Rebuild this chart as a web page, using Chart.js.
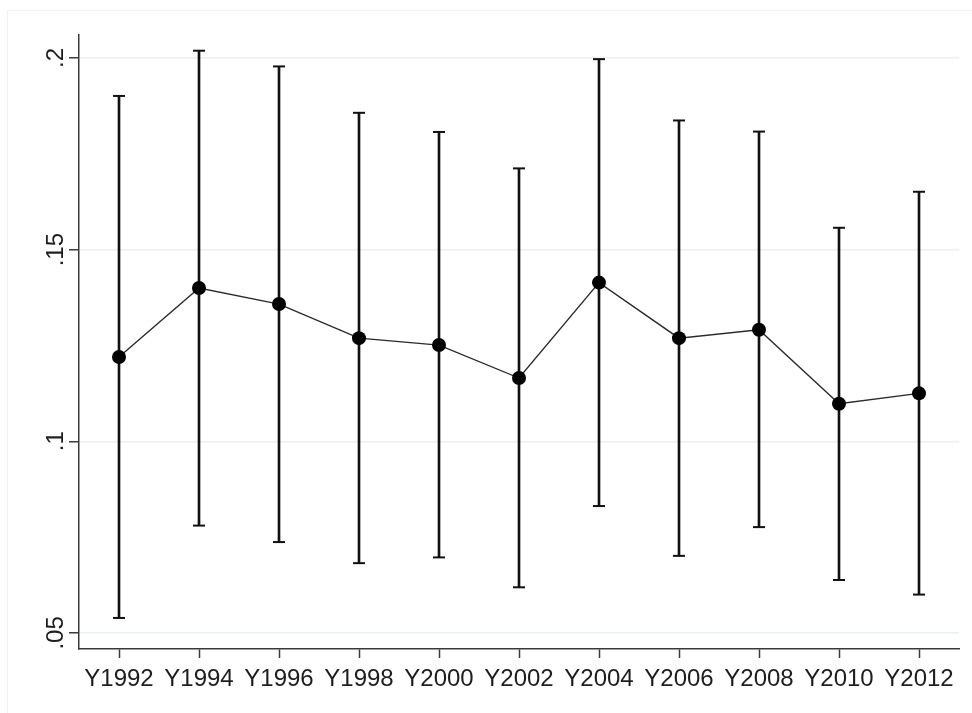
<!DOCTYPE html>
<html>
<head>
<meta charset="utf-8">
<script src="https://cdn.jsdelivr.net/npm/chart.js@4/dist/chart.umd.min.js"></script>
<style>
  body { margin: 0; background: #fff; }
  #wrap { position: relative; width: 972px; height: 713px; }
  #frame {
    position: absolute; left: 7px; top: 10px; right: 0; bottom: 0;
    border-top: 1px solid #f1f3f3; border-left: 1px solid #f1f3f3;
  }
  canvas { position: absolute; left: 0; top: 0; }
</style>
</head>
<body>
<div id="wrap">
  <div id="frame"></div>
  <canvas id="ciChart" width="972" height="713"></canvas>
</div>
<script>
const years = ['Y1992', 'Y1994', 'Y1996', 'Y1998', 'Y2000', 'Y2002',
  'Y2004', 'Y2006', 'Y2008', 'Y2010', 'Y2012'];
const means = [0.122, 0.140, 0.1358, 0.1269, 0.1251, 0.1165,
  0.1414, 0.1269, 0.1291, 0.1098, 0.1125];
const lower = [0.0539, 0.0780, 0.0737, 0.0682, 0.0697, 0.0619,
  0.0831, 0.0701, 0.0776, 0.0638, 0.0600];
const upper = [0.1901, 0.2019, 0.1978, 0.1857, 0.1807, 0.1712,
  0.1997, 0.1837, 0.1808, 0.1557, 0.1651];
const yTicks = [0.05, 0.1, 0.15, 0.2];
const yTickLabels = ['.05', '.1', '.15', '.2'];

const FONT = '"Liberation Sans", Arial, sans-serif';

// y labels in Stata are turned on their side, Chart.js won't rotate vertical ticks
const yLabelPlugin = {
  id: 'yLabels',
  afterDraw(chart) {
    const s = chart.scales.y;
    const ctx = chart.ctx;
    ctx.save();
    ctx.font = '24px ' + FONT;
    ctx.fillStyle = '#1e1e1e';
    ctx.textAlign = 'center';
    ctx.textBaseline = 'alphabetic';
    s.ticks.forEach((t, i) => {
      const y = s.getPixelForValue(t.value);
      ctx.save();
      ctx.translate(63, y);
      ctx.rotate(-Math.PI / 2);
      ctx.fillText(yTickLabels[i], 0, 0);
      ctx.restore();
    });
    ctx.restore();
  },
};

new Chart(document.getElementById('ciChart'), {
  data: {
    labels: years,
    datasets: [
      {
        type: 'line',
        data: means,
        borderColor: '#2a2a2a',
        borderWidth: 1.4,
        pointRadius: 7,
        pointBackgroundColor: '#000',
        pointBorderColor: '#000',
        pointBorderWidth: 0,
        order: 0,
      },
      {
        type: 'line',
        data: upper,
        showLine: false,
        pointStyle: 'line',
        pointRadius: 6,
        pointBorderWidth: 2,
        pointBorderColor: '#111',
        order: 1,
      },
      {
        type: 'line',
        data: lower,
        showLine: false,
        pointStyle: 'line',
        pointRadius: 6,
        pointBorderWidth: 2,
        pointBorderColor: '#111',
        order: 1,
      },
      {
        type: 'bar',
        data: lower.map((l, i) => [l, upper[i]]),
        backgroundColor: '#111',
        barThickness: 2,
        order: 2,
      },
    ],
  },
  options: {
    responsive: false,
    animation: false,
    events: [],
    layout: { padding: { top: 35, right: 13, left: 0, bottom: 0 } },
    plugins: { legend: { display: false }, tooltip: { enabled: false } },
    scales: {
      x: {
        type: 'category',
        offset: true,
        afterFit: (s) => { s.height = 64; },
        border: { display: true, color: '#3a3a3a', width: 1.5 },
        grid: {
          offset: false,
          drawOnChartArea: false,
          drawTicks: true,
          tickLength: 9,
          tickColor: '#3a3a3a',
          tickWidth: 1.5,
        },
        ticks: {
          color: '#1e1e1e',
          font: { family: FONT, size: 24 },
          padding: 7,
          maxRotation: 0,
          autoSkip: false,
        },
      },
      y: {
        type: 'linear',
        min: 0.0458,
        max: 0.206,
        afterFit: (s) => { s.width = 79; },
        afterBuildTicks: (s) => { s.ticks = yTicks.map((v) => ({ value: v })); },
        border: { display: true, color: '#3a3a3a', width: 1.5 },
        grid: {
          color: '#eaf1f2',
          lineWidth: 1.5,
          drawTicks: true,
          tickLength: 10,
          tickColor: '#3a3a3a',
          tickWidth: 1.5,
        },
        ticks: { display: false },
      },
    },
  },
  plugins: [yLabelPlugin],
});
</script>
</body>
</html>
